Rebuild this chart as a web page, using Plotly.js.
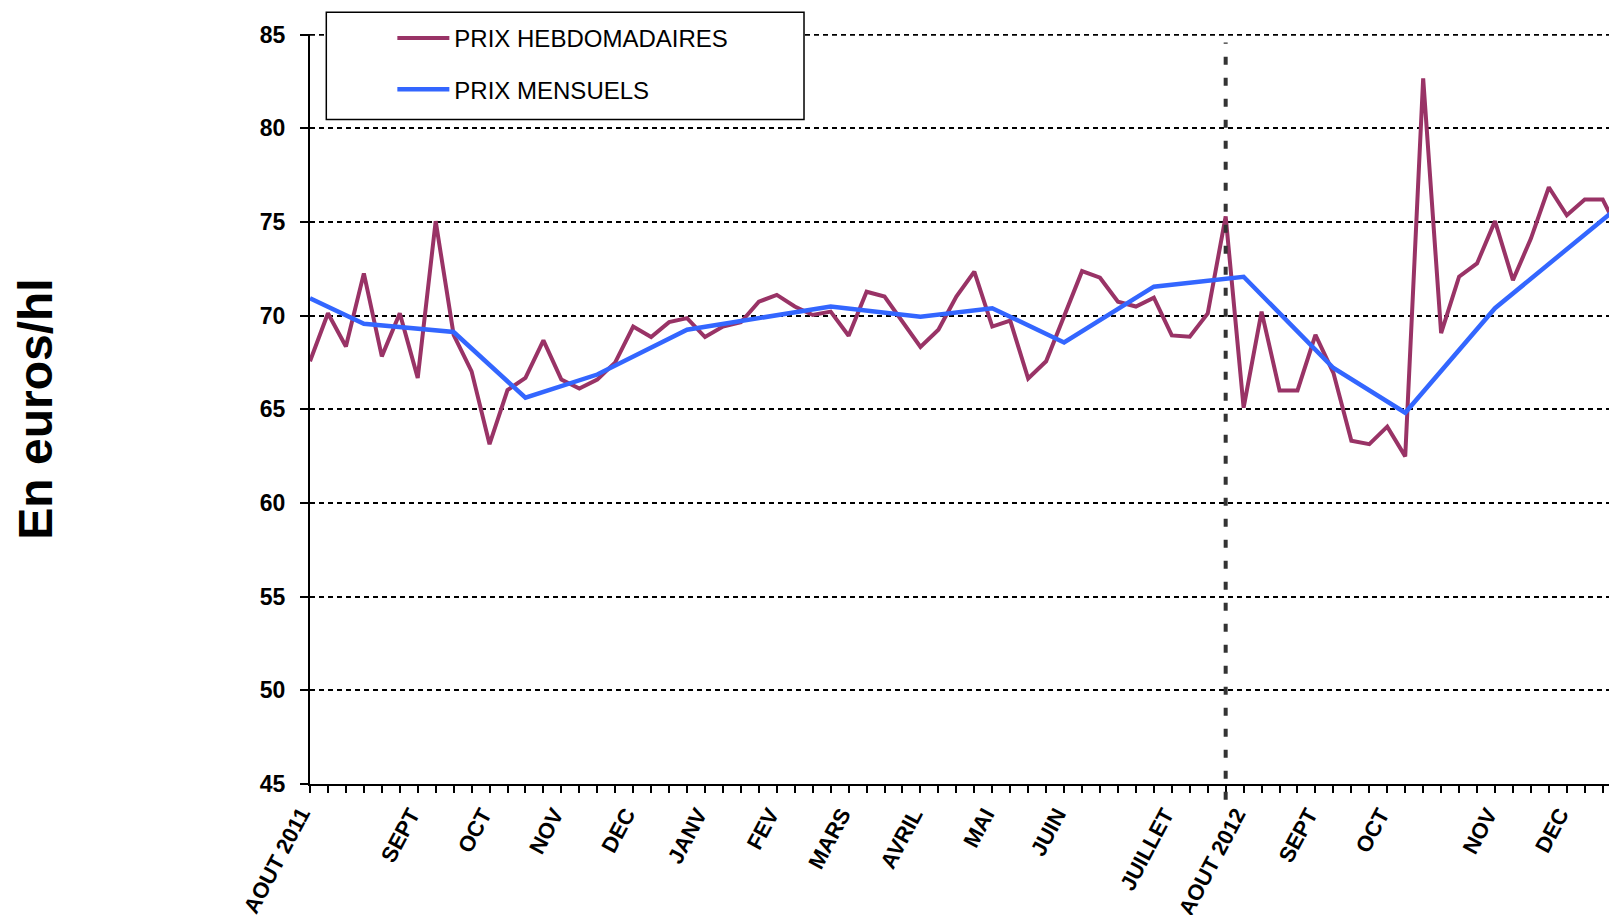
<!DOCTYPE html>
<html>
<head>
<meta charset="utf-8">
<script src="https://cdn.plot.ly/plotly-3.0.1.min.js"></script>
<style>
  html, body { margin: 0; padding: 0; background: #ffffff; }
  #chart { width: 1609px; height: 915px; }
</style>
</head>
<body>
<div id="chart"></div>
<script>
// ---- data ----
const weekIndex = [0,1,2,3,4,5,6,7,8,9,10,11,12,13,14,15,16,17,18,19,20,21,22,23,24,25,26,27,28,29,30,31,32,33,34,35,36,37,38,39,40,41,42,43,44,45,46,47,48,49,50,51,52,53,54,55,56,57,58,59,60,61,62,63,64,65,66,67,68,69,70,71,72,73];
const weeklyPrices = [67.57,70.13,68.36,72.26,67.83,70.13,66.68,75.05,68.98,67.03,
                      63.14,66.03,66.68,68.68,66.59,66.11,66.59,67.51,69.42,68.86,
                      69.66,69.87,68.86,69.42,69.65,70.75,71.11,70.49,70.04,70.22,
                      68.93,71.28,71.02,69.69,68.33,69.25,71.02,72.35,69.42,69.74,
                      66.65,67.57,69.96,72.38,72.03,70.75,70.49,70.96,68.95,68.88,
                      70.12,75.30,65.09,70.22,66.01,66.01,68.98,66.95,63.32,63.14,
                      64.08,62.49,82.67,69.07,72.08,72.79,75.05,71.90,74.12,76.86,
                      75.36,76.20,76.20,74.30];
const monthlyWeeks  = [0,3,8,12,16,21,29,34,38,42,47,52,57,61,66,74];
const monthlyPrices = [70.93,69.57,69.13,65.62,66.86,69.25,70.49,69.95,70.40,68.57,71.55,72.08,67.21,64.82,70.40,76.70];

const monthLabels     = ['AOUT 2011','SEPT','OCT','NOV','DEC','JANV','FEV','MARS','AVRIL','MAI','JUIN','JUILLET','AOUT 2012','SEPT','OCT','NOV','DEC'];
const monthLabelWeeks = [0,5,9,13,17,21,25,29,33,37,41,47,51,55,59,65,69];
const lastVisibleWeek = 72;
const markerWeek = 51;   // vertical dashed separator (AOUT 2012)

const seriesNames = ['PRIX HEBDOMADAIRES', 'PRIX MENSUELS'];
const yTickValues = [45,50,55,60,65,70,75,80,85];

// ---- build ----
const FONT = 'Liberation Sans, Arial, Helvetica, sans-serif';
const tickWeeks = weekIndex.filter(w => w <= lastVisibleWeek);
// the first label (AOUT 2011) sits a little further left in the reference, it is placed as an annotation
const tickTextMain = tickWeeks.map(w => {
  const i = monthLabelWeeks.indexOf(w);
  return (i > 0) ? monthLabels[i] : '';
});
const xRange = [0, 72.35];
const yRange = [45, 85.04];
const yTop = yTickValues[yTickValues.length - 1];
const labelFont = { family: FONT, size: 22, weight: 'bold', color: '#000000' };

const traces = [
  {
    type: 'scatter', mode: 'lines', name: seriesNames[0], legendgroup: 'g1',
    x: weekIndex, y: weeklyPrices,
    line: { color: '#993366', width: 4 }, cliponaxis: true
  },
  {
    type: 'scatter', mode: 'lines', name: seriesNames[1], legendgroup: 'g2',
    x: monthlyWeeks, y: monthlyPrices,
    line: { color: '#3366FF', width: 4.5 }, cliponaxis: true
  }
];

const layout = {
  width: 1609, height: 915,
  margin: { l: 310.4, r: 0, t: 33.75, b: 131, pad: 0 },
  paper_bgcolor: '#ffffff', plot_bgcolor: '#ffffff',
  font: { family: FONT, color: '#000000' },
  showlegend: true,
  legend: {
    x: 0.0634, y: 1.024, xanchor: 'left', yanchor: 'top',
    bgcolor: 'rgba(0,0,0,0)', borderwidth: 0,
    font: { family: FONT, size: 24, color: '#000000' },
    itemwidth: 52, tracegroupgap: 17, traceorder: 'grouped'
  },
  xaxis: {
    range: xRange, tickmode: 'array', tickvals: tickWeeks, ticktext: tickTextMain,
    ticks: 'outside', ticklen: 7, tickwidth: 2, tickcolor: '#000000',
    showline: true, linecolor: '#000000', linewidth: 2,
    showgrid: false, zeroline: false, fixedrange: true,
    tickangle: -62, ticklabelshift: 11, ticklabeloverflow: 'allow',
    tickfont: labelFont
  },
  xaxis2: {
    overlaying: 'x', anchor: 'y', side: 'bottom',
    range: xRange, tickmode: 'array', tickvals: tickWeeks,
    ticks: 'inside', ticklen: 7, tickwidth: 2, tickcolor: '#000000',
    showticklabels: false, showline: false, showgrid: false, zeroline: false
  },
  yaxis: {
    range: yRange, tickmode: 'array', tickvals: yTickValues,
    ticks: 'outside', ticklen: 8, tickwidth: 2, tickcolor: '#000000',
    showline: true, linecolor: '#000000', linewidth: 2,
    showgrid: true, gridcolor: '#000000', gridwidth: 2, griddash: '5px,4px',
    zeroline: false, fixedrange: true,
    tickfont: { family: FONT, size: 23, weight: 'bold', color: '#000000' },
    ticklabelstandoff: 10,
    title: { text: 'En euros/hl', standoff: 192.5,
             font: { family: FONT, size: 48, weight: 'bold', color: '#000000' } },
    automargin: false
  },
  yaxis2: {
    overlaying: 'y', anchor: 'x', side: 'left',
    range: yRange, tickmode: 'array', tickvals: yTickValues,
    ticks: 'inside', ticklen: 8, tickwidth: 2, tickcolor: '#000000',
    showticklabels: false, showline: false, showgrid: false, zeroline: false
  },
  annotations: [
    { text: monthLabels[0], xref: 'x', x: monthLabelWeeks[0], yref: 'paper', y: -0.1023,
      xshift: -33, xanchor: 'center', yanchor: 'middle', textangle: -62,
      showarrow: false, font: labelFont }
  ],
  shapes: [
    { type: 'line', xref: 'paper', yref: 'y', x0: 0, x1: 1, y0: yTop, y1: yTop,
      line: { color: '#000000', width: 2, dash: '5px,4px' }, layer: 'below' },
    { type: 'rect', xref: 'paper', yref: 'paper',
      x0: 0.01255, x1: 0.3803, y0: 0.8859, y1: 1.0291,
      line: { color: '#000000', width: 1.5 }, fillcolor: '#ffffff', layer: 'above' },
    { type: 'line', xref: 'x', yref: 'paper',
      x0: markerWeek, x1: markerWeek, y0: -0.021, y1: 0.9887,
      line: { color: '#333333', width: 4, dash: '8px,13px' }, layer: 'above' }
  ]
};

Plotly.newPlot('chart', traces, layout, { staticPlot: true, displayModeBar: false });
</script>
</body>
</html>
